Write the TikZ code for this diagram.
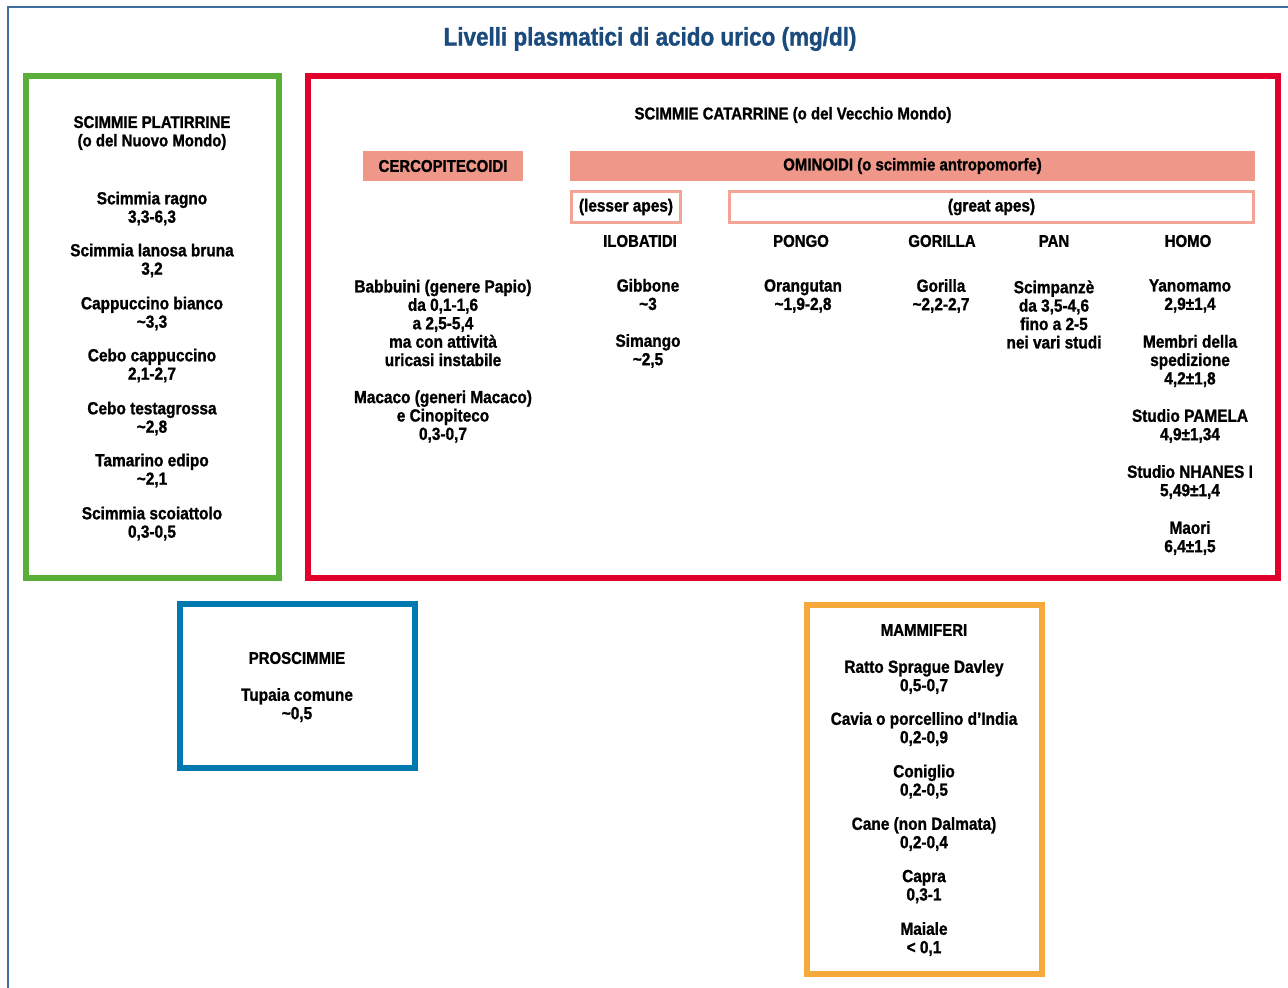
\documentclass[tikz,border=0pt]{standalone}
\usepackage{fontspec}
\setmainfont{Liberation Sans}[FakeStretch=0.88, BoldFeatures={FakeBold=1.2}]
\usetikzlibrary{positioning}

\definecolor{titleblue}{HTML}{1B4A7C}
\definecolor{frameblue}{HTML}{3F6F9F}
\definecolor{platgreen}{HTML}{5AAF38}
\definecolor{catred}{HTML}{E0002B}
\definecolor{prosblue}{HTML}{0079B0}
\definecolor{mamorange}{HTML}{F6A83B}
\definecolor{salmon}{HTML}{EF9789}
\definecolor{salmonline}{HTML}{F2A597}

\tikzset{
  entry/.style={align=center, inner sep=0pt, font=\fontsize{17.5}{18.4}\selectfont\bfseries},
  head/.style={align=center, inner sep=0pt, font=\fontsize{17}{18.4}\selectfont\bfseries},
  groupbox/.style={draw=#1, line width=5.5pt, inner sep=0pt},
  bandbox/.style={fill=salmon, inner sep=0pt, minimum height=30pt, font=\fontsize{17}{18.4}\selectfont\bfseries},
  apesbox/.style={draw=salmonline, line width=3pt, inner sep=0pt, minimum height=31pt, font=\fontsize{17.5}{18.4}\selectfont\bfseries},
}

\begin{document}
\begin{tikzpicture}[x=1pt, y=-1pt]
  \useasboundingbox (0,0) rectangle (1288,988);

  % frame and title
  \draw [frameblue, line width=1.5pt] (8,988) -- (8,7) -- (1288,7);
  \node (title) at (650,39) [inner sep=0pt, text=titleblue, font=\fontsize{25.5}{28}\selectfont\bfseries] {Livelli plasmatici di acido urico (mg/dl)};

  % group boxes
  \node (platbox) at (152.5,327) [groupbox=platgreen, minimum width=253pt, minimum height=502pt] {};
  \node (catbox) at (793,327) [groupbox=catred, minimum width=970pt, minimum height=502pt] {};
  \node (prosbox) at (297.5,686) [groupbox=prosblue, minimum width=235pt, minimum height=164pt] {};
  \node (mambox) at (924.5,789.5) [groupbox=mamorange, minimum width=235pt, minimum height=369pt] {};

  % scimmie platirrine
  \node (plat) at (152,133) [head] {SCIMMIE PLATIRRINE\\(o del Nuovo Mondo)};
  \node (ragno) at (152,208.5) [entry] {Scimmia ragno\\3,3-6,3};
  \node (lanosa) at (152,260.5) [entry] {Scimmia lanosa bruna\\3,2};
  \node (bianco) at (152,313.5) [entry] {Cappuccino bianco\\\textasciitilde3,3};
  \node (cebo) at (152,365.5) [entry] {Cebo cappuccino\\2,1-2,7};
  \node (testa) at (152,418.5) [entry] {Cebo testagrossa\\\textasciitilde2,8};
  \node (tamarino) at (152,470.5) [entry] {Tamarino edipo\\\textasciitilde2,1};
  \node (scoiattolo) at (152,523.5) [entry] {Scimmia scoiattolo\\0,3-0,5};

  % scimmie catarrine
  \node (cat) at (793,115) [head] {SCIMMIE CATARRINE (o del Vecchio Mondo)};
  \node (cerco) at (443,166) [bandbox, minimum width=160pt] {CERCOPITECOIDI};
  \node (omino) at (912.5,166) [bandbox, minimum width=685pt] {OMINOIDI (o scimmie antropomorfe)};
  \node (lesser) at (626,207) [apesbox, minimum width=109pt] {(lesser apes)};
  \node (great) at (991.5,207) [apesbox, minimum width=524pt] {(great apes)};

  \node (ilobatidi) at (640,241) [head] {ILOBATIDI};
  \node (pongo) at (801,241) [head] {PONGO};
  \node (gorillag) at (942,241) [head] {GORILLA};
  \node (pan) at (1054,241) [head] {PAN};
  \node (homo) at (1188,241) [head] {HOMO};

  \node (babbuini) at (443,323) [entry] {Babbuini (genere Papio)\\da 0,1-1,6\\a 2,5-5,4\\ma con attività\\uricasi instabile};
  \node (macaco) at (443,416.5) [entry] {Macaco (generi Macaco)\\e Cinopiteco\\0,3-0,7};
  \node (gibbone) at (648,294.5) [entry] {Gibbone\\\textasciitilde3};
  \node (simango) at (648,351) [entry] {Simango\\\textasciitilde2,5};
  \node (orangutan) at (803,296) [entry] {Orangutan\\\textasciitilde1,9-2,8};
  \node (gorilla) at (941,296) [entry] {Gorilla\\\textasciitilde2,2-2,7};
  \node (scimpanze) at (1054,314.5) [entry] {Scimpanzè\\da 3,5-4,6\\fino a 2-5\\nei vari studi};
  \node (yanomamo) at (1190,296) [entry] {Yanomamo\\2,9±1,4};
  \node (membri) at (1190,361) [entry] {Membri della\\spedizione\\4,2±1,8};
  \node (pamela) at (1190,426) [entry] {Studio PAMELA\\4,9±1,34};
  \node (nhanes) at (1190,482) [entry] {Studio NHANES I\\5,49±1,4};
  \node (maori) at (1190,538) [entry] {Maori\\6,4±1,5};

  % proscimmie
  \node (pros) at (297,658) [head] {PROSCIMMIE};
  \node (tupaia) at (297,705) [entry] {Tupaia comune\\\textasciitilde0,5};

  % mammiferi
  \node (mam) at (924,630) [head] {MAMMIFERI};
  \node (ratto) at (924,677) [entry] {Ratto Sprague Davley\\0,5-0,7};
  \node (cavia) at (924,729) [entry] {Cavia o porcellino d’India\\0,2-0,9};
  \node (coniglio) at (924,781.5) [entry] {Coniglio\\0,2-0,5};
  \node (cane) at (924,834) [entry] {Cane (non Dalmata)\\0,2-0,4};
  \node (capra) at (924,886.5) [entry] {Capra\\0,3-1};
  \node (maiale) at (924,939) [entry] {Maiale\\< 0,1};
\end{tikzpicture}
\end{document}
